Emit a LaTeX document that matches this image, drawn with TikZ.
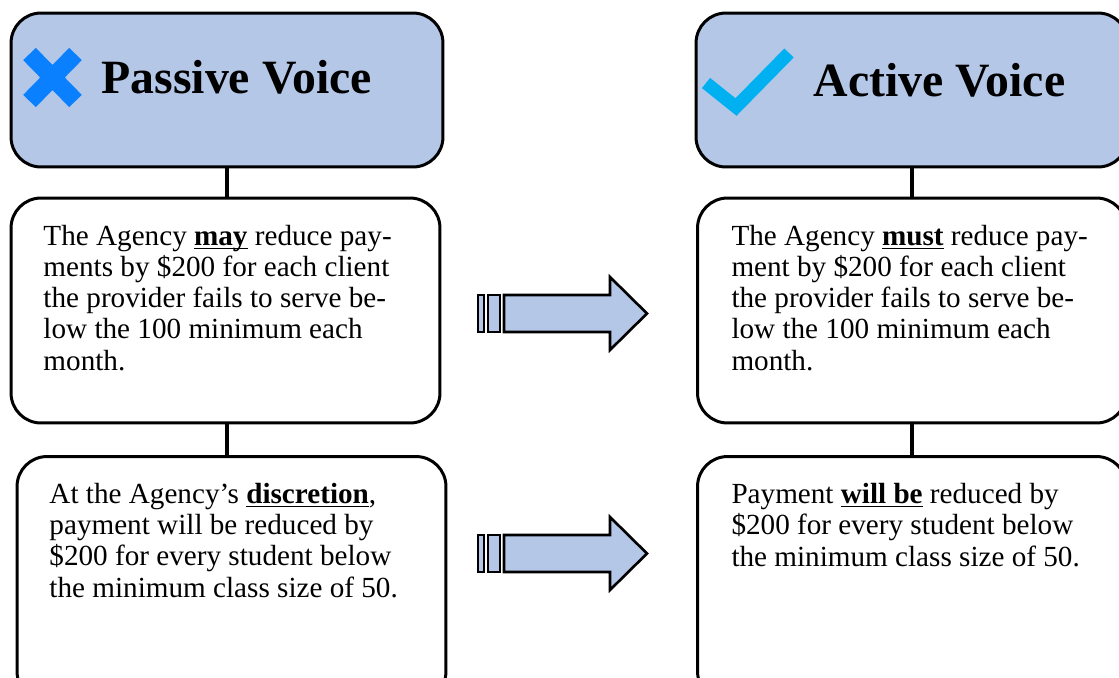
\documentclass[tikz,border=0pt]{standalone}
\usepackage{fontspec}
\setmainfont{Liberation Serif}
\usetikzlibrary{%
  positioning,%
  calc%
}
\definecolor{boxblue}{HTML}{B4C7E7}
\definecolor{crossblue}{HTML}{0A80FE}
\definecolor{tickblue}{HTML}{00B0F0}
\newcommand{\keyword}[1]{\underline{\smash{\textbf{#1}}}}

\begin{document}
\begin{tikzpicture}
  [
  x=0.02cm, y=-0.02cm,
  line width=1.7pt,
  header/.style={rectangle, rounded corners=0.6cm, draw=black, fill=boxblue, minimum width=8.64cm, minimum height=3.08cm},
  textbox/.style={rectangle, rounded corners=0.6cm, draw=black, fill=white, minimum width=8.58cm, minimum height=4.5cm},
  title/.style={font=\fontsize{27.2}{32}\selectfont\bfseries, inner sep=0pt, anchor=base west},
  body/.style={font=\fontsize{16.6}{17.7}\selectfont, align=left, inner sep=0pt, anchor=base west},% base = last line
  link/.style={line width=2.4pt},
  xmark/.style={draw=crossblue, line width=10pt},
  tickmark/.style={draw=tickblue, line width=7.4pt},
  blockarrow/.style={draw=black, fill=boxblue, line width=1.5pt, line join=miter},
  ]

  \useasboundingbox (0,0) rectangle (1119,677);

  % headers
  \node[header] (passive) at (227,90) {};
  \node[header] (active) at (912,90) {};
  \node[title] (passiveTitle) at (100,93) {Passive Voice};
  \node[title] (activeTitle) at (812,96) {Active Voice};
  \draw[xmark] (29.5,54) -- (75.5,101) (29.5,101) -- (75.5,54);
  \draw[tickmark] (706,83) -- (736,107) -- (789,53);

  % text boxes
  \node[textbox] (boxA1) at (225.5,310.5) {};
  \node[textbox] (boxB1) at (912,310.5) {};
  \node[textbox, minimum height=4.9cm] (boxA2) at (231.5,579) {};
  \node[textbox, minimum height=4.9cm] (boxB2) at (912,579) {};

  \node[body] (textA1) at (42,370) {The Agency \keyword{may} reduce pay-\\ments by \$200 for each client\\the provider fails to serve be-\\low the 100 minimum each\\month.};
  \node[body] (textB1) at (730,370) {The Agency \keyword{must} reduce pay-\\ment by \$200 for each client\\the provider fails to serve be-\\low the 100 minimum each\\month.};
  \node[body] (textA2) at (48,597) {At the Agency’s \keyword{discretion},\\payment will be reduced by\\\$200 for every student below\\the minimum class size of 50.};
  \node[body] (textB2) at (730,566) {Payment \keyword{will be} reduced by\\\$200 for every student below\\the minimum class size of 50.};

  % connectors
  \draw[link] (passive.south) -- (passive.south |- boxA1.north);
  \draw[link] (passive.south |- boxA1.south) -- (passive.south |- boxA2.north);
  \draw[link] (active.south) -- (active.south |- boxB1.north);
  \draw[link] (active.south |- boxB1.south) -- (active.south |- boxB2.north);

  % block arrows
  \draw[blockarrow] (478,295) rectangle (484,332);
  \draw[blockarrow] (488,295) rectangle (500,332);
  \draw[blockarrow] (504,295) -- (610,295) -- (610,277) -- (647,313.5) -- (610,350) -- (610,332) -- (504,332) -- cycle;
  \draw[blockarrow] (478,535) rectangle (484,572);
  \draw[blockarrow] (488,535) rectangle (500,572);
  \draw[blockarrow] (504,535) -- (610,535) -- (610,517) -- (647,553.5) -- (610,590) -- (610,572) -- (504,572) -- cycle;
\end{tikzpicture}
\end{document}
